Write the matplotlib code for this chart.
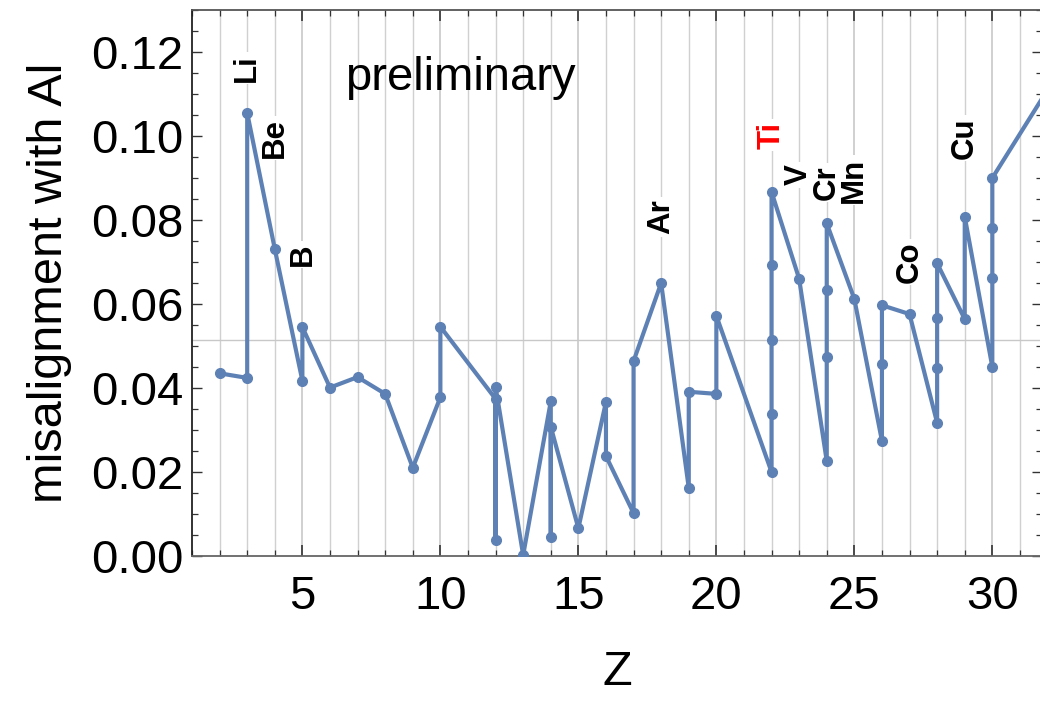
import matplotlib
matplotlib.use("Agg")
import matplotlib.pyplot as plt
from matplotlib.ticker import MultipleLocator

# ---- data (in drawing order) ----
z_values = [2, 3, 3, 4, 5, 5, 6, 7, 8, 9, 10, 10, 12, 12, 12, 13, 14, 14, 14, 15,
            16, 16, 17, 17, 18, 19, 19, 20, 20, 22, 22, 22, 22, 22, 23, 24, 24, 24, 24,
            25, 26, 26, 26, 27, 28, 28, 28, 28, 29, 29, 30, 30, 30, 30, 32]
misalignment = [0.0435, 0.0424, 0.1055, 0.0731, 0.0417, 0.0545, 0.0401, 0.0426, 0.0386,
                0.0210, 0.0378, 0.0546, 0.0374, 0.0038, 0.0403, 0.0002, 0.0368, 0.0045,
                0.0308, 0.0066, 0.0367, 0.0238, 0.0102, 0.0464, 0.0650, 0.0162, 0.0391,
                0.0386, 0.0572, 0.0200, 0.0337, 0.0514, 0.0692, 0.0867, 0.0660, 0.0226,
                0.0474, 0.0633, 0.0792, 0.0612, 0.0274, 0.0457, 0.0597, 0.0576, 0.0317,
                0.0448, 0.0567, 0.0697, 0.0564, 0.0808, 0.0450, 0.0662, 0.0781, 0.0900,
                0.1110]
reference_level = 0.0514

element_names = ["Li", "Be", "B", "Ar", "Ti", "V", "Cr", "Mn", "Co", "Cu"]
element_z = [3, 4, 5, 18, 22, 23, 24, 25, 27, 29]
element_label_y = [0.1162, 0.0995, 0.0717, 0.0807, 0.1002, 0.0907, 0.0890, 0.0895, 0.0700, 0.0995]
element_colors = ["black", "black", "black", "black", "red", "black", "black", "black", "black", "black"]

x_ticks = [5, 10, 15, 20, 25, 30]
y_ticks = [0.00, 0.02, 0.04, 0.06, 0.08, 0.10, 0.12]
y_tick_labels = ["0.00", "0.02", "0.04", "0.06", "0.08", "0.10", "0.12"]

# ---- figure ----
plt.rcParams['font.family'] = ['Liberation Sans', 'DejaVu Sans']
fig = plt.figure(figsize=(10.40, 7.01), dpi=100)
ax = fig.add_axes([192/1040, 145/701, (1042-192)/1040, (556-10)/701])

ax.set_xlim(1, 31.8)
ax.set_ylim(0, 0.13)

# grid lines
for z in range(2, 32):
    lw = 1.4 if z % 5 == 0 else 1.0
    ax.axvline(z, color='#d0d0d0', lw=lw, zorder=0)
ax.axhline(reference_level, color='#c8c8c8', lw=1.0, zorder=0)

line_color = '#5e81b5'
ax.plot(z_values, misalignment, color=line_color, lw=3.0, marker='o', ms=7,
        zorder=3, clip_on=True)

for name, zx, ly, c in zip(element_names, element_z, element_label_y, element_colors):
    ax.text(zx, ly, name, rotation=90, ha='center', va='center', fontsize=22.5,
            fontweight='bold', color=c, zorder=2,
            bbox=dict(facecolor='white', edgecolor='none', pad=1.5))

ax.text(10.72, 0.1138, "preliminary", ha='center', va='center', fontsize=34, color='black')

ax.set_xticks(x_ticks)
ax.set_xticklabels([str(v) for v in x_ticks])
ax.set_yticks(y_ticks)
ax.set_yticklabels(y_tick_labels)
ax.xaxis.set_minor_locator(MultipleLocator(1))
ax.yaxis.set_minor_locator(MultipleLocator(0.005))

ax.tick_params(axis='both', which='both', direction='in', top=True, right=True,
               labelsize=34, colors='#333333', labelcolor='black')
ax.tick_params(axis='x', which='major', length=8, width=1.2, pad=14)
ax.tick_params(axis='x', which='minor', length=4.5, width=0.9)
ax.tick_params(axis='y', which='major', length=7, width=1.0, pad=6)
ax.tick_params(axis='y', which='minor', length=4.5, width=0.9)

ax.spines['left'].set_color('#222222')
ax.spines['bottom'].set_color('#666666')
ax.spines['top'].set_color('#555555')
ax.spines['right'].set_color('#555555')
for s in ax.spines.values():
    s.set_linewidth(1.3)

ax.set_xlabel("Z", fontsize=35, labelpad=22)
ax.set_ylabel("misalignment with Al", fontsize=35, labelpad=14)

fig.savefig("out.png", dpi=100)
